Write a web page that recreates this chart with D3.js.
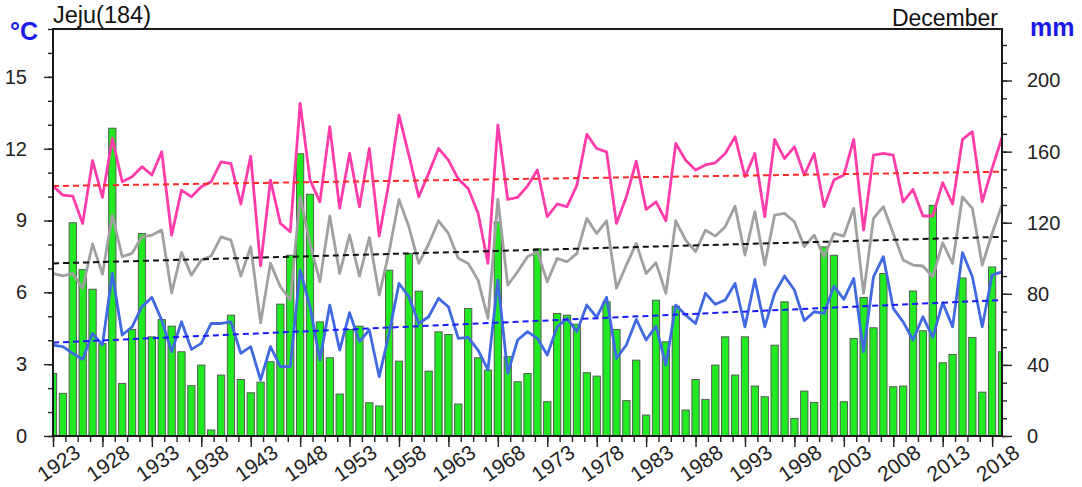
<!DOCTYPE html>
<html>
<head>
<meta charset="utf-8">
<script src="https://cdn.jsdelivr.net/npm/d3@7"></script>
<style>
    body { margin: 0; background: #fff; }
    svg { display: block; font-family: "Liberation Sans", Arial, Helvetica, sans-serif; }
</style>
</head>
<body>
<div id="chart"></div>
<script>
    //data (December, Jeju station 184)
    const startYear = 1923;
    //max temperature (pink)
    const tmax = [10.44, 10.06, 10.02, 8.88, 11.50, 9.97, 12.43, 10.62, 10.83, 11.25,
        10.90, 11.87, 8.39, 10.27, 9.99, 10.41, 10.62, 11.45, 11.38, 9.69,
        11.69, 7.11, 10.69, 8.88, 8.53, 13.89, 10.69, 9.78, 12.92, 9.51,
        11.80, 9.58, 12.01, 8.35, 10.62, 13.40, 11.73, 9.99, 10.97, 12.01,
        11.52, 10.73, 10.34, 9.30, 7.21, 12.99, 9.88, 9.97, 10.44, 11.11,
        9.16, 9.69, 9.58, 10.48, 12.60, 12.01, 11.87, 8.88, 9.99, 11.48,
        9.46, 9.78, 8.99, 12.22, 11.52, 11.11, 11.32, 11.41, 11.80, 12.50,
        10.83, 11.80, 9.16, 12.39, 11.59, 12.08, 10.90, 11.80, 9.58, 10.69,
        10.90, 12.39, 8.60, 11.73, 11.80, 11.73, 9.78, 10.30, 9.19, 9.19,
        10.58, 9.69, 12.39, 12.71, 9.78, 11.18, 12.47];
    //mean temperature (gray)
    const tavg = [6.79, 6.69, 6.79, 6.17, 8.02, 6.76, 9.23, 7.49, 7.63, 8.32,
        8.39, 8.60, 5.98, 7.67, 6.72, 7.35, 7.52, 8.32, 8.18, 6.68,
        7.91, 4.73, 7.21, 6.24, 5.68, 10.00, 8.04, 6.44, 9.19, 6.79,
        8.39, 6.68, 8.29, 5.89, 7.70, 9.88, 8.74, 7.21, 8.02, 8.99,
        8.46, 7.42, 7.21, 6.51, 4.91, 9.88, 6.30, 6.86, 7.49, 7.70,
        6.44, 7.42, 7.28, 7.63, 9.09, 8.46, 8.99, 6.17, 7.14, 8.04,
        6.79, 7.24, 5.96, 8.99, 8.18, 7.70, 8.60, 8.35, 8.74, 9.60,
        7.56, 9.37, 7.14, 9.23, 9.30, 8.95, 7.91, 8.39, 7.49, 8.46,
        8.35, 9.51, 5.96, 9.09, 9.58, 8.46, 7.35, 7.14, 7.10, 6.65,
        8.07, 7.21, 9.99, 9.51, 7.14, 8.46, 9.65];
    //min temperature (blue)
    const tmin = [3.80, 3.73, 3.45, 3.20, 4.29, 3.80, 6.79, 4.22, 4.56, 5.40,
        5.79, 4.84, 3.52, 4.77, 3.62, 3.87, 4.70, 4.70, 4.77, 3.45,
        3.73, 2.34, 3.73, 2.90, 2.90, 6.93, 5.40, 3.17, 5.47, 3.59,
        5.15, 3.94, 4.43, 2.48, 4.29, 6.37, 5.82, 4.70, 4.98, 5.75,
        5.40, 4.08, 4.12, 3.59, 2.76, 6.51, 2.62, 4.01, 4.36, 4.08,
        3.38, 4.56, 4.91, 4.36, 5.47, 4.95, 5.79, 3.24, 3.80, 4.87,
        4.01, 4.59, 2.96, 5.47, 5.05, 4.70, 5.96, 5.50, 5.68, 6.37,
        4.56, 6.54, 4.56, 5.96, 6.68, 6.10, 4.82, 5.19, 5.12, 6.26,
        5.71, 6.58, 3.52, 6.65, 7.49, 5.33, 4.77, 4.01, 4.98, 4.12,
        5.57, 4.56, 7.66, 6.65, 4.56, 6.72, 6.86];
    //precipitation in mm (green bars, right axis)
    const precip = [35.2, 24.0, 120.0, 93.6, 82.6, 52.0, 173.2, 29.6, 59.9, 113.9,
        55.8, 65.5, 61.8, 47.4, 28.3, 39.9, 3.4, 34.3, 68.0, 31.8,
        24.3, 30.3, 41.8, 74.2, 101.7, 158.8, 136.0, 64.2, 44.0, 23.6,
        59.9, 61.8, 18.7, 16.9, 93.3, 42.1, 102.6, 81.5, 36.5, 58.6,
        57.1, 18.0, 71.7, 44.0, 37.1, 120.4, 44.6, 30.5, 35.2, 105.4,
        19.3, 68.9, 68.0, 62.9, 35.6, 33.7, 75.5, 59.9, 19.9, 42.7,
        11.8, 76.4, 53.0, 73.0, 14.6, 31.8, 20.6, 39.9, 55.8, 34.3,
        55.8, 28.1, 22.1, 51.1, 75.5, 9.9, 25.3, 18.9, 106.4, 101.7,
        19.3, 54.9, 77.9, 60.9, 91.4, 27.7, 28.1, 81.6, 59.2, 129.8,
        41.2, 45.9, 88.9, 55.4, 24.7, 95.1, 47.4];
    const years = tmax.map((d, i) => startYear + i);

    //linear trends (value at first and last year)
    const trendYears = [1923, 2019];
    const tmaxTrend = [10.44, 11.04];
    const tavgTrend = [7.21, 8.32];
    const tminTrend = [3.90, 5.68];

    //ticks
    const xTickYears = [1923, 1928, 1933, 1938, 1943, 1948, 1953, 1958, 1963, 1968,
        1973, 1978, 1983, 1988, 1993, 1998, 2003, 2008, 2013, 2018];
    const leftTicks = [0, 3, 6, 9, 12, 15];
    const rightTicks = [0, 40, 80, 120, 160, 200];

    //set dimensions
    const width = 1082, height = 487;
    const plot = {left: 53, right: 1002, top: 29, bottom: 436};

    const svg = d3.select('#chart')
        .append('svg')
        .attr('width', width)
        .attr('height', height);

    svg.append('rect').attr('width', width).attr('height', height).attr('fill', '#fff');

    //scales
    const xScale = d3.scaleLinear().domain([1923, 2019]).range([plot.left, plot.right]);
    const yTemp = d3.scaleLinear().domain([0, 17]).range([plot.bottom, plot.top]);
    const yRain = d3.scaleLinear().domain([0, 229]).range([plot.bottom, plot.top]);

    svg.append('clipPath').attr('id', 'plotClip')
        .append('rect')
        .attr('x', plot.left).attr('y', plot.top)
        .attr('width', plot.right - plot.left)
        .attr('height', plot.bottom - plot.top);

    const inner = svg.append('g').attr('clip-path', 'url(#plotClip)');

    //bars of precipitation
    const barW = 7.3;
    inner.selectAll('rect.bar')
        .data(precip)
        .enter()
        .append('rect')
        .attr('class', 'bar')
        .attr('x', (d, i) => xScale(years[i]) - barW / 2)
        .attr('y', d => yRain(d))
        .attr('width', barW)
        .attr('height', d => yRain(0) - yRain(d))
        .attr('fill', '#22ea22')
        .attr('stroke', '#4f4f4f')
        .attr('stroke-width', 0.9);

    //temperature lines
    function drawLine(values, color) {
        inner.append('path')
            .datum(values)
            .attr('fill', 'none')
            .attr('stroke', color)
            .attr('stroke-width', 2.8)
            .attr('stroke-linejoin', 'round')
            .attr('d', d3.line()
                .x((d, i) => xScale(years[i]))
                .y(d => yTemp(d)));
    }
    drawLine(tmax, '#ff3caa');
    drawLine(tavg, '#a0a0a0');
    drawLine(tmin, '#4169e1');

    //dashed trend lines
    function drawTrend(values, color) {
        inner.append('path')
            .datum(values)
            .attr('fill', 'none')
            .attr('stroke', color)
            .attr('stroke-width', 2)
            .attr('stroke-dasharray', '6,4')
            .attr('d', d3.line()
                .x((d, i) => xScale(trendYears[i]))
                .y(d => yTemp(d)));
    }
    drawTrend(tmaxTrend, '#ff2a2a');
    drawTrend(tavgTrend, '#111111');
    drawTrend(tminTrend, '#1a1aff');

    //axes
    const tickFont = 20;

    const leftMinor = svg.append('g')
        .attr('transform', `translate(${plot.left},0)`)
        .call(d3.axisLeft(yTemp).tickValues(d3.range(0, 18, 1)).tickSize(5).tickFormat(''));
    const leftMajor = svg.append('g')
        .attr('transform', `translate(${plot.left},0)`)
        .call(d3.axisLeft(yTemp).tickValues(leftTicks).tickSize(9).tickPadding(17).tickFormat(d3.format('d')));

    const rightMinor = svg.append('g')
        .attr('transform', `translate(${plot.right},0)`)
        .call(d3.axisRight(yRain).tickValues(d3.range(0, 230, 10)).tickSize(5).tickFormat(''));
    const rightMajor = svg.append('g')
        .attr('transform', `translate(${plot.right},0)`)
        .call(d3.axisRight(yRain).tickValues(rightTicks).tickSize(10).tickPadding(15).tickFormat(d3.format('d')));

    const bottomMinor = svg.append('g')
        .attr('transform', `translate(0,${plot.bottom})`)
        .call(d3.axisBottom(xScale).tickValues(d3.range(0, 77).map(k => 1923 + k * 1.25)).tickSize(6).tickFormat(''));
    const bottomMajor = svg.append('g')
        .attr('transform', `translate(0,${plot.bottom})`)
        .call(d3.axisBottom(xScale).tickValues(xTickYears).tickSize(11).tickFormat(d3.format('d')));

    [leftMinor, leftMajor, rightMinor, rightMajor, bottomMinor, bottomMajor].forEach(a => {
        a.select('.domain').remove();
        a.selectAll('line').attr('stroke', '#222').attr('stroke-width', 1.4);
        a.selectAll('text').attr('font-size', tickFont).attr('fill', '#222')
            .style('font-family', '"Liberation Sans", Arial, sans-serif');
    });

    //rotated year labels
    bottomMajor.selectAll('text')
        .attr('y', 0)
        .attr('dy', null)
        .attr('font-size', 21)
        .attr('text-anchor', 'middle')
        .attr('dominant-baseline', 'central')
        .attr('transform', 'translate(5,27) rotate(-35)');

    //frame
    svg.append('rect')
        .attr('x', plot.left).attr('y', plot.top)
        .attr('width', plot.right - plot.left)
        .attr('height', plot.bottom - plot.top)
        .attr('fill', 'none')
        .attr('stroke', '#1a1a1a')
        .attr('stroke-width', 2);

    //titles
    svg.append('text')
        .attr('x', plot.left).attr('y', 23)
        .attr('font-size', 23.5).attr('fill', '#111')
        .text('Jeju(184)');
    svg.append('text')
        .attr('x', 998).attr('y', 26)
        .attr('text-anchor', 'end')
        .attr('font-size', 23).attr('fill', '#111')
        .text('December');
    svg.append('text')
        .attr('x', 10).attr('y', 40)
        .attr('font-size', 25).attr('font-weight', 'bold').attr('fill', '#1a1ae6')
        .text('°C');
    svg.append('text')
        .attr('x', 1030).attr('y', 36)
        .attr('font-size', 25).attr('font-weight', 'bold').attr('fill', '#1a1ae6')
        .text('mm');
</script>
</body>
</html>
